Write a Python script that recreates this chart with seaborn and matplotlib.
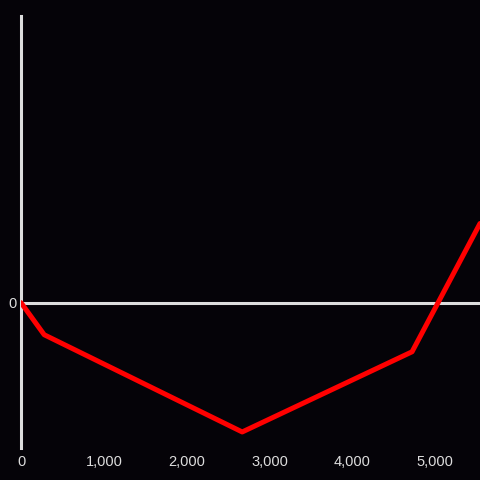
import numpy as np
import pandas as pd
import seaborn as sns
import matplotlib.pyplot as plt
from matplotlib.ticker import FuncFormatter

# data
x_vals = [0, 280, 2670, 4720, 5540]
y_vals = [0, -320, -1290, -490, 790]
x_ticks = [0, 1000, 2000, 3000, 4000, 5000]

df = pd.DataFrame({'x': x_vals, 'y': y_vals})

sns.set_style('dark')
plt.rcParams['font.family'] = ['Liberation Sans', 'DejaVu Sans']

bg = '#050308'
fg = '#dddddd'

fig = plt.figure(figsize=(4.8, 4.8), dpi=100, facecolor=bg)
ax = fig.add_axes([21 / 480, 32 / 480, 459 / 480, 432 / 480])
ax.set_facecolor(bg)

# zero line
ax.axhline(0, color=fg, lw=2.2, zorder=1)

sns.lineplot(data=df, x='x', y='y', color='#ff0000', lw=3.6, ax=ax, zorder=3)

ax.set_xlim(0, 5540)
ax.set_ylim(-1450, 2860)
ax.set_xticks(x_ticks)
ax.xaxis.set_major_formatter(FuncFormatter(lambda v, p: f'{int(v):,}'))
ax.set_yticks([0])
ax.tick_params(colors=fg, labelsize=10.5, length=0)
ax.tick_params(axis='x', pad=5)
ax.tick_params(axis='y', pad=3)
ax.set_xlabel('')
ax.set_ylabel('')
ax.grid(False)

for side in ['top', 'right', 'bottom']:
    ax.spines[side].set_visible(False)
ax.spines['left'].set_color(fg)
ax.spines['left'].set_linewidth(2.2)
ax.spines['left'].set_zorder(2)

fig.savefig('out.png', dpi=100, facecolor=bg)
